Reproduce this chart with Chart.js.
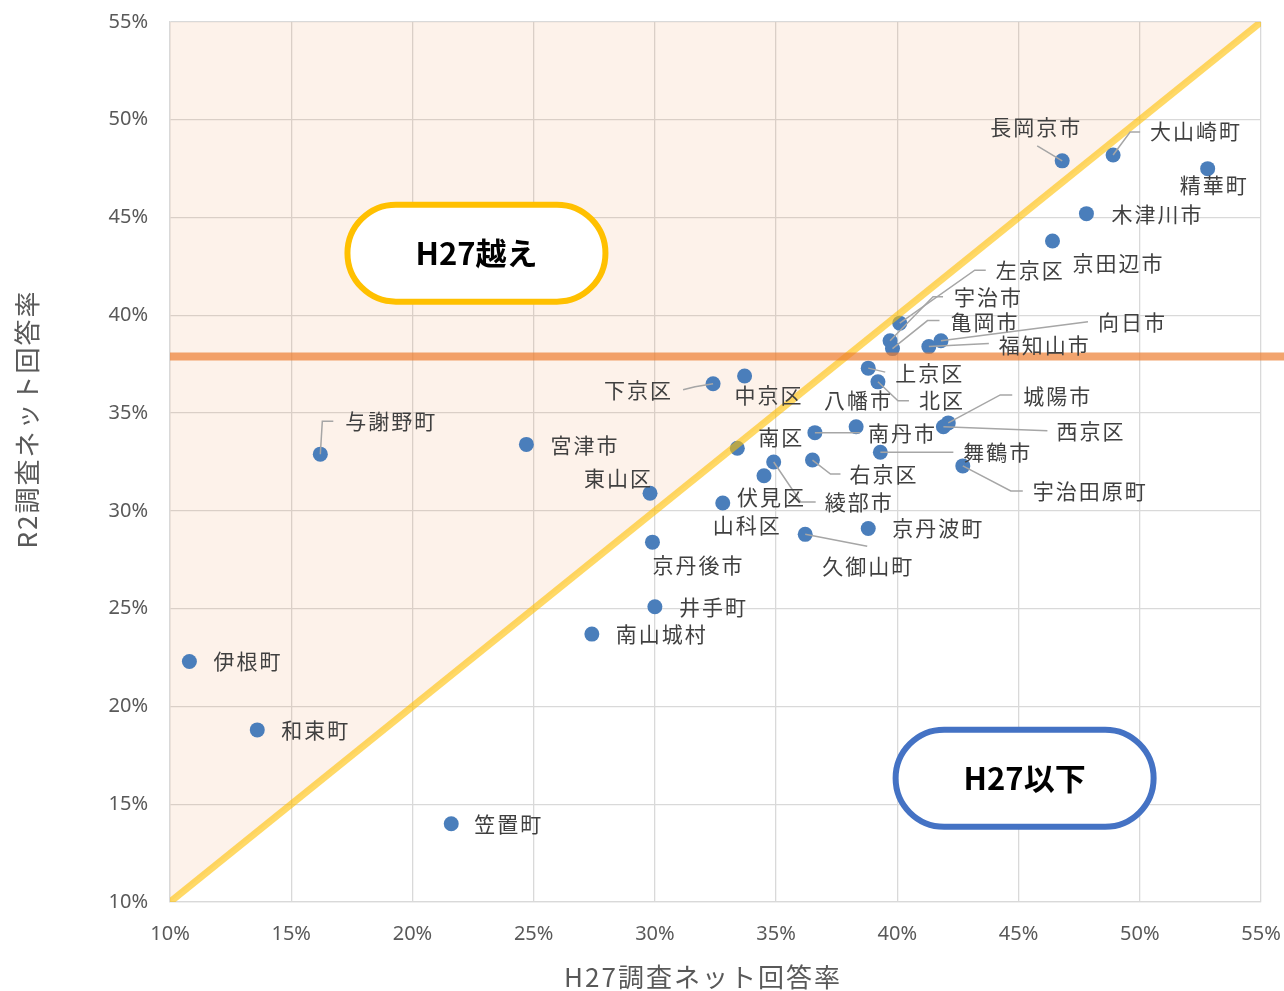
<!DOCTYPE html>
<html lang="ja">
<head>
<meta charset="utf-8">
<title>ネット回答率 H27 / R2</title>
<script src="https://cdn.jsdelivr.net/npm/chart.js@4.4.1/dist/chart.umd.min.js"></script>
<style>
html,body{margin:0;padding:0;background:#fff;}
#wrap{width:1284px;height:991px;}
</style>
</head>
<body>
<div id="wrap"><canvas id="scatterChart" width="1284" height="991"></canvas></div>
<script>

// 市町村・区
const areaNames = [
    "長岡京市","大山崎町","精華町","木津川市","京田辺市",
    "左京区","宇治市","亀岡市","福知山市","向日市",
    "上京区","北区","八幡市","南丹市","南区",
    "城陽市","西京区","舞鶴市","宇治田原町","右京区",
    "綾部市","伏見区","山科区","京丹波町","久御山町",
    "京丹後市","東山区","宮津市","与謝野町","下京区",
    "中京区","井手町","南山城村","伊根町","和束町","笠置町"
];

// H27調査ネット回答率 (%)
const h27Rates = [
    46.8, 48.9, 52.8, 47.8, 46.4,
    40.1, 39.7, 39.8, 41.3, 41.8,
    38.8, 39.2, 38.3, 36.6, 33.4,
    42.1, 41.9, 39.3, 42.7, 36.5,
    34.9, 34.5, 32.8, 38.8, 36.2,
    29.9, 29.8, 24.7, 16.2, 32.4,
    33.7, 30.0, 27.4, 10.8, 13.6, 21.6
];

// R2調査ネット回答率 (%)
const r2Rates = [
    47.9, 48.2, 47.5, 45.2, 43.8,
    39.6, 38.7, 38.3, 38.4, 38.7,
    37.3, 36.6, 34.3, 34.0, 33.2,
    34.5, 34.3, 33.0, 32.3, 32.6,
    32.5, 31.8, 30.4, 29.1, 28.8,
    28.4, 30.9, 33.4, 32.9, 36.5,
    36.9, 25.1, 23.7, 22.3, 18.8, 14.0
];

const axisTicks = [10,15,20,25,30,35,40,45,50,55];

// R2 平均 (横線)
const r2Average = 37.9;

// ラベル位置 (点からのずれ, px) と引き出し線
const labelLayout = {
    "長岡京市":{dx:-72,dy:-34,leader:[[-25,-15]]},
    "大山崎町":{dx:37,dy:-24,leader:[[17,-23],[27,-23]]},
    "精華町":{dx:-28,dy:16},
    "木津川市":{dx:25,dy:0},
    "京田辺市":{dx:20,dy:22},
    "左京区":{dx:96,dy:-53,leader:[[75,-53],[86,-53]]},
    "宇治市":{dx:64,dy:-44,leader:[[43,-44],[53,-44]]},
    "亀岡市":{dx:58,dy:-27,leader:[[35,-28],[47,-28]]},
    "福知山市":{dx:70,dy:-2,leader:[[60,-3]]},
    "向日市":{dx:157,dy:-19,leader:[[147,-19]]},
    "上京区":{dx:27,dy:5,leader:[[17,4]]},
    "北区":{dx:41,dy:18,leader:[[20,19],[31,19]]},
    "八幡市":{dx:-32,dy:-27},
    "南丹市":{dx:53,dy:0,leader:[[45,0]]},
    "南区":{dx:21,dy:-11},
    "城陽市":{dx:75,dy:-27,leader:[[52,-28],[64,-28]]},
    "西京区":{dx:113,dy:4,leader:[[104,4]]},
    "舞鶴市":{dx:83,dy:0,leader:[[73,0]]},
    "宇治田原町":{dx:70,dy:25,leader:[[48,25],[60,25]]},
    "右京区":{dx:37,dy:14,leader:[[18,14],[28,14]]},
    "綾部市":{dx:51,dy:40,leader:[[27,40],[42,40]]},
    "伏見区":{dx:-27,dy:21},
    "山科区":{dx:-10,dy:22},
    "京丹波町":{dx:24,dy:0},
    "久御山町":{dx:17,dy:32,leader:[[62,12]]},
    "京丹後市":{dx:0,dy:23},
    "東山区":{dx:-66,dy:-15},
    "宮津市":{dx:24,dy:1},
    "与謝野町":{dx:25,dy:-33,leader:[[2,-33],[13,-33]]},
    "下京区":{dx:-109,dy:6,leader:[[-18,3],[-30,6]]},
    "中京区":{dx:-10,dy:19},
    "井手町":{dx:24,dy:0},
    "南山城村":{dx:24,dy:0},
    "伊根町":{dx:24,dy:0},
    "和束町":{dx:24,dy:0},
    "笠置町":{dx:23,dy:0}
};

const pointLabels = {

    id:"pointLabels",

    afterDatasetsDraw(chart){

        const ctx = chart.ctx;
        const meta = chart.getDatasetMeta(0);

        ctx.save();

        ctx.font = '21px "Noto Sans CJK JP"';
        ctx.letterSpacing = "2px";
        ctx.textBaseline = "middle";
        ctx.textAlign = "left";
        ctx.strokeStyle = "#A6A6A6";
        ctx.lineWidth = 1.5;
        ctx.fillStyle = "#404040";

        meta.data.forEach((pt,i)=>{

            const lay = labelLayout[areaNames[i]];

            if(lay.leader){

                ctx.beginPath();
                ctx.moveTo(pt.x, pt.y);
                lay.leader.forEach(p=>ctx.lineTo(pt.x + p[0], pt.y + p[1]));
                ctx.stroke();

            }

            ctx.fillText(areaNames[i], pt.x + lay.dx, pt.y + lay.dy);

        });

        ctx.restore();

    }

};

function drawPill(ctx, cx, cy, color, text){

    const w = 258;
    const h = 97;

    ctx.beginPath();
    ctx.roundRect(cx - w/2, cy - h/2, w, h, h/2);
    ctx.fillStyle = "#FFFFFF";
    ctx.fill();
    ctx.lineWidth = 6;
    ctx.strokeStyle = color;
    ctx.stroke();

    ctx.fillStyle = "#000000";
    ctx.font = 'bold 31px "Noto Sans CJK JP"';
    ctx.textAlign = "center";
    ctx.textBaseline = "middle";
    ctx.fillText(text, cx, cy);

}

const annotations = {

    id:"annotations",

    afterDraw(chart){

        const ctx = chart.ctx;
        const x = chart.scales.x;
        const y = chart.scales.y;

        ctx.save();

        drawPill(ctx, x.getPixelForValue(22.64), y.getPixelForValue(43.18), "#FFC000", "H27越え");
        drawPill(ctx, x.getPixelForValue(45.25), y.getPixelForValue(16.33), "#4472C4", "H27以下");

        // axis titles
        ctx.fillStyle = "#595959";
        ctx.font = '26px "Noto Sans CJK JP"';
        ctx.letterSpacing = "2px";
        ctx.textAlign = "center";
        ctx.textBaseline = "middle";
        ctx.fillText("H27調査ネット回答率", 703, 977);

        ctx.translate(27, 419);
        ctx.rotate(-Math.PI/2);
        ctx.fillText("R2調査ネット回答率", 0, 0);

        ctx.restore();

    }

};

function axisOptions(padding, fit){

    return {

        type:"linear",

        min:axisTicks[0],

        max:axisTicks[axisTicks.length - 1],

        afterBuildTicks(scale){
            scale.ticks = axisTicks.map(v=>({value:v}));
        },

        afterFit(scale){
            fit(scale);
            // keep the plot area where the layout padding puts it
            scale.paddingTop = 0;
            scale.paddingBottom = 0;
            scale.paddingLeft = 0;
            scale.paddingRight = 0;
        },

        ticks:{
            color:"#595959",
            padding,
            maxRotation:0,
            autoSkip:false,
            font:{
                family:"Noto Sans",
                size:20
            },
            callback:v=>v + "%"
        },

        grid:{
            color:"#D9D9D9",
            lineWidth:1.3,
            drawTicks:false
        },

        border:{
            color:"#D9D9D9",
            width:1.3
        }

    };

}

const points = areaNames.map((name,i)=>({x:h27Rates[i], y:r2Rates[i]}));

const ctx = document.getElementById("scatterChart").getContext("2d");

const scatterChart = new Chart(ctx,{

    type:"scatter",

    data:{

        datasets:[

            {
                label:"市町村",
                data:points,
                backgroundColor:"#4A7EBB",
                borderWidth:0,
                pointRadius:7.5,
                order:3
            },

            {
                type:"line",
                label:"H27=R2",
                data:[{x:axisTicks[0], y:axisTicks[0]},{x:axisTicks[9], y:axisTicks[9]}],
                borderColor:"rgba(255,192,0,0.6)",
                borderWidth:7,
                pointRadius:0,
                fill:"end",
                backgroundColor:"rgba(237,125,49,0.1)",
                order:2
            },

            {
                type:"line",
                label:"R2平均",
                data:[{x:axisTicks[0], y:r2Average},{x:60, y:r2Average}],
                borderColor:"rgba(237,125,49,0.7)",
                borderWidth:8,
                pointRadius:0,
                fill:false,
                clip:false,
                order:1
            }

        ]

    },

    options:{

        responsive:false,

        animation:false,

        events:[],

        layout:{
            padding:{top:22, right:23, left:0, bottom:0}
        },

        plugins:{
            legend:{display:false},
            tooltip:{enabled:false},
            filler:{drawTime:"beforeDatasetsDraw"}
        },

        scales:{
            x:axisOptions(20, s=>{ s.height = 89; }),
            y:axisOptions(22, s=>{ s.width = 170; })
        }

    },

    plugins:[pointLabels, annotations]

});

</script>
</body>
</html>
